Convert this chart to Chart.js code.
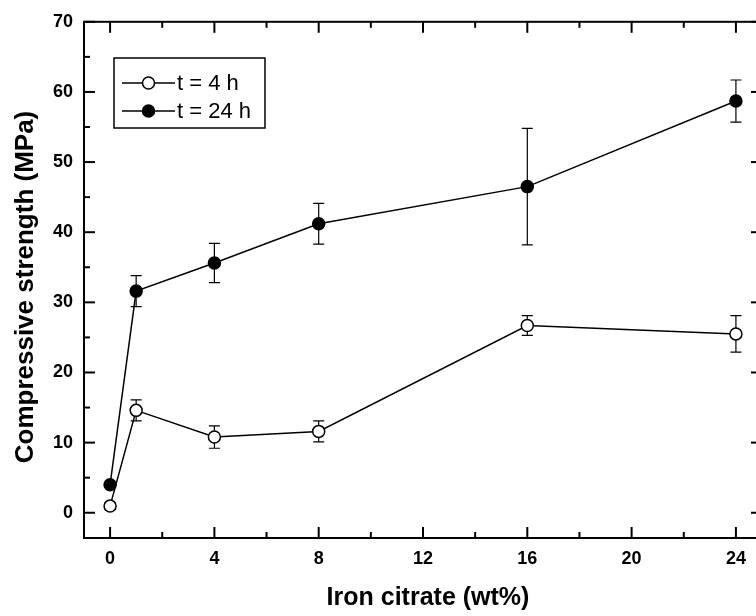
<!DOCTYPE html>
<html>
<head>
<meta charset="utf-8">
<script src="https://cdn.jsdelivr.net/npm/chart.js@4/dist/chart.umd.min.js"></script>
<style>
html,body{margin:0;padding:0;background:#fff;overflow:hidden;width:756px;height:616px;}
#wrap{width:780px;height:616px;}
</style>
</head>
<body>
<div id="wrap"><canvas id="c" width="780" height="616"></canvas></div>
<script>
// ---- data ----
const ironCitrate = [0, 1, 4, 8, 16, 24];
const strength4h  = [0.95, 14.6, 10.8, 11.6, 26.7, 25.5];
const err4h       = [0.5, 1.5, 1.6, 1.5, 1.4, 2.6];
const strength24h = [4.0, 31.6, 35.6, 41.2, 46.5, 58.7];
const err24h      = [0.3, 2.2, 2.8, 2.9, 8.3, 3.0];
const xTicks = [0, 4, 8, 12, 16, 20, 24];
const xMinorTicks = [2, 6, 10, 14, 18, 22];
const yTicks = [0, 10, 20, 30, 40, 50, 60, 70];
const yMinorTicks = [5, 15, 25, 35, 45, 55, 65];
const seriesLabels = ['t = 4 h', 't = 24 h'];
const xTitle = 'Iron citrate (wt%)';
const yTitle = 'Compressive strength (MPa)';

const toPts = (ys) => ironCitrate.map((x, i) => ({x: x, y: ys[i]}));

const framePlugin = {
  id: 'frame',
  beforeDatasetsDraw(chart) {
    const ctx = chart.ctx, xs = chart.scales.x, ys = chart.scales.y;
    const a = chart.chartArea;
    ctx.save();
    ctx.beginPath(); ctx.rect(a.left, a.top, a.right - a.left, a.bottom - a.top); ctx.clip();
    ctx.strokeStyle = '#000'; ctx.lineWidth = 1.2;
    const cap = 5.5;
    [[strength4h, err4h], [strength24h, err24h]].forEach(([vals, errs]) => {
      vals.forEach((v, i) => {
        const px = xs.getPixelForValue(ironCitrate[i]);
        const pt = ys.getPixelForValue(v + errs[i]);
        const pb = ys.getPixelForValue(v - errs[i]);
        ctx.beginPath();
        ctx.moveTo(px, pt); ctx.lineTo(px, pb);
        ctx.moveTo(px - cap, pt); ctx.lineTo(px + cap, pt);
        ctx.moveTo(px - cap, pb); ctx.lineTo(px + cap, pb);
        ctx.stroke();
      });
    });
    ctx.restore();
  },
  afterDraw(chart) {
    const ctx = chart.ctx, xs = chart.scales.x, ys = chart.scales.y;
    const a = chart.chartArea;
    ctx.save();
    ctx.strokeStyle = '#000';
    ctx.lineWidth = 2;
    ctx.strokeRect(a.left, a.top, a.right - a.left, a.bottom - a.top);
    ctx.lineWidth = 2;
    const tick = (x1, y1, x2, y2) => { ctx.beginPath(); ctx.moveTo(x1, y1); ctx.lineTo(x2, y2); ctx.stroke(); };
    xTicks.forEach(v => { const p = xs.getPixelForValue(v); tick(p, a.bottom, p, a.bottom - 11); tick(p, a.top, p, a.top + 11); });
    xMinorTicks.forEach(v => { const p = xs.getPixelForValue(v); tick(p, a.bottom, p, a.bottom - 6); tick(p, a.top, p, a.top + 6); });
    yTicks.forEach(v => { const p = ys.getPixelForValue(v); tick(a.left, p, a.left + 11, p); tick(a.right, p, a.right - 11, p); });
    yMinorTicks.forEach(v => { const p = ys.getPixelForValue(v); tick(a.left, p, a.left + 6, p); tick(a.right, p, a.right - 6, p); });

    // legend
    ctx.lineWidth = 1.5;
    ctx.strokeRect(114, 58, 151, 70);
    const rows = [[83, false, seriesLabels[0]], [111, true, seriesLabels[1]]];
    ctx.font = '22px "Liberation Sans", Arial, sans-serif';
    ctx.textBaseline = 'middle';
    ctx.textAlign = 'left';
    ctx.fillStyle = '#000';
    rows.forEach(([y, filled, label]) => {
      ctx.lineWidth = 1.5;
      tick(122, y, 175, y);
      ctx.beginPath(); ctx.arc(148.5, y, 6, 0, Math.PI * 2);
      ctx.fillStyle = filled ? '#000' : '#fff'; ctx.fill(); ctx.stroke();
      ctx.fillStyle = '#000';
      ctx.fillText(label, 177, y + 1);
    });

    // axis titles
    ctx.font = 'bold 25px "Liberation Sans", Arial, sans-serif';
    ctx.textAlign = 'center';
    ctx.textBaseline = 'alphabetic';
    ctx.fillText(xTitle, 428, 605);
    ctx.save();
    ctx.translate(33, 287);
    ctx.rotate(-Math.PI / 2);
    ctx.font = 'bold 26px "Liberation Sans", Arial, sans-serif';
    ctx.fillText(yTitle, 0, 0);
    ctx.restore();
    ctx.restore();
  }
};

const tickFont = {family: '"Liberation Sans", Arial, sans-serif', size: 18, weight: 'bold'};

new Chart(document.getElementById('c'), {
  type: 'line',
  data: {
    datasets: [
      {label: seriesLabels[0], data: toPts(strength4h), borderColor: '#000', borderWidth: 1.5,
       pointRadius: 6, pointBackgroundColor: '#fff', pointBorderColor: '#000', pointBorderWidth: 1.5, tension: 0},
      {label: seriesLabels[1], data: toPts(strength24h), borderColor: '#000', borderWidth: 1.5,
       pointRadius: 6, pointBackgroundColor: '#000', pointBorderColor: '#000', pointBorderWidth: 1.5, tension: 0}
    ]
  },
  options: {
    responsive: false,
    animation: false,
    layout: {padding: {left: 0, right: 18, top: 18, bottom: 0}},
    plugins: {legend: {display: false}, tooltip: {enabled: false}},
    scales: {
      x: {
        type: 'linear', min: -1, max: 25,
        afterBuildTicks: s => { s.ticks = xTicks.map(v => ({value: v})); },
        afterFit: s => { s.height = 78; },
        grid: {display: false, drawTicks: false}, border: {display: false},
        ticks: {font: tickFont, color: '#000', padding: 10}
      },
      y: {
        type: 'linear', min: -3.6, max: 70,
        afterBuildTicks: s => { s.ticks = yTicks.map(v => ({value: v})); },
        afterFit: s => { s.width = 84; },
        grid: {display: false, drawTicks: false}, border: {display: false},
        ticks: {font: tickFont, color: '#000', padding: 11}
      }
    }
  },
  plugins: [framePlugin]
});
</script>
</body>
</html>
